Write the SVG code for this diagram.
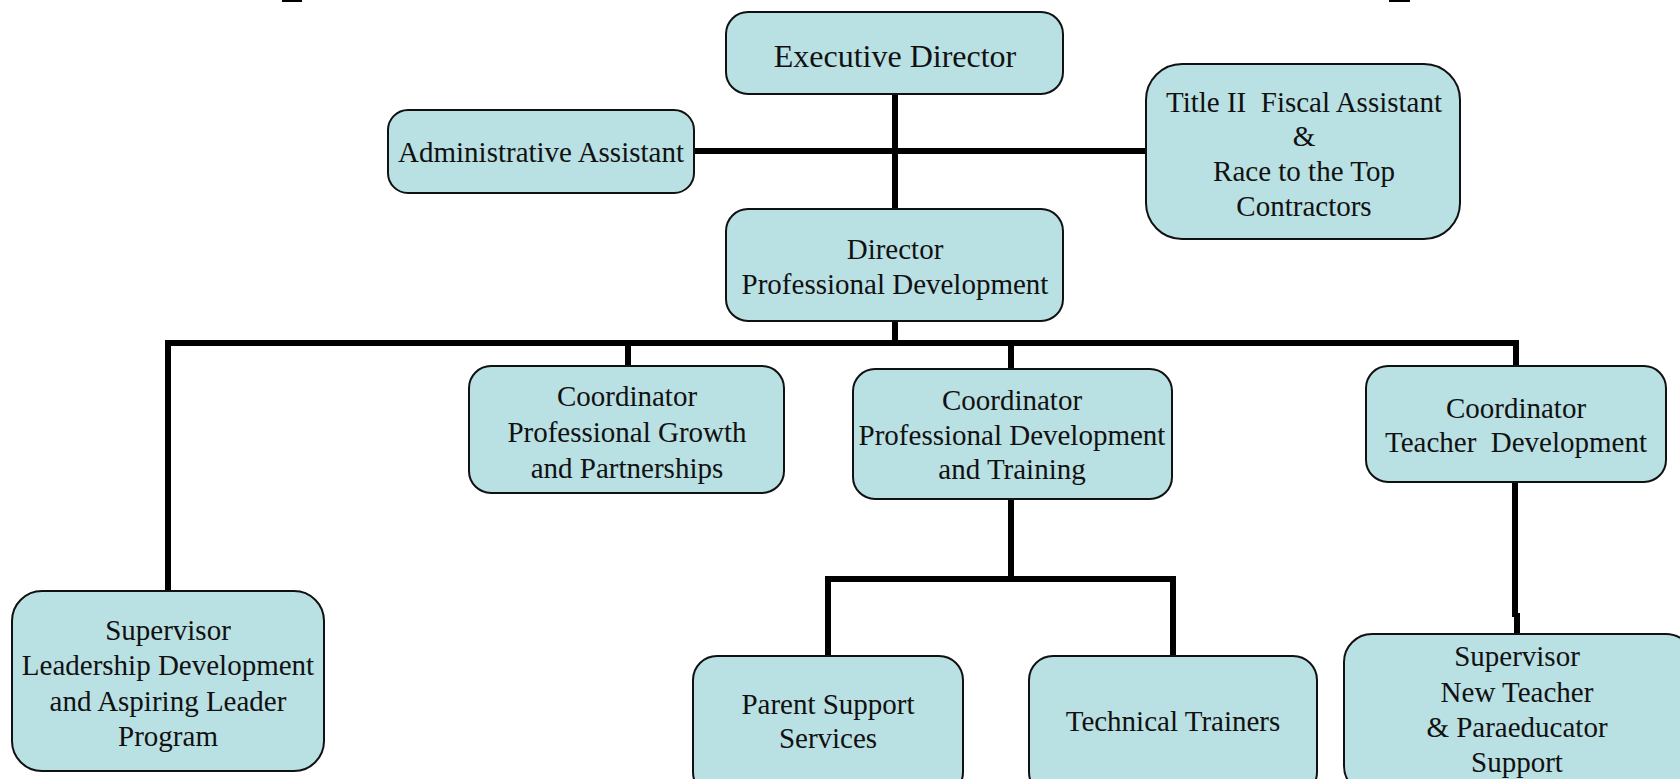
<svg xmlns="http://www.w3.org/2000/svg" width="1680" height="779" viewBox="0 0 1680 779">
<style>
.box{fill:#b9e0e3;stroke:#111;stroke-width:2}
.t{font-family:"Liberation Serif","Times New Roman",serif;font-size:29px;fill:#111;text-anchor:middle}
.big{font-size:32px}
.c{stroke:#000;stroke-width:6;fill:none;stroke-linecap:butt}
</style>
<rect width="1680" height="779" fill="#fff"/>
<rect x="282" y="0" width="20" height="2" fill="#000"/>
<rect x="1389" y="0" width="21" height="2" fill="#000"/>
<g id="connectors">
<line class="c" x1="694" y1="151" x2="1146" y2="151"/>
<line class="c" x1="895" y1="94" x2="895" y2="209"/>
<line class="c" x1="895" y1="321" x2="895" y2="343"/>
<polyline class="c" points="168,591 168,343 1516,343 1516,366"/>
<line class="c" x1="628" y1="343" x2="628" y2="366"/>
<line class="c" x1="1011" y1="343" x2="1011" y2="369"/>
<line class="c" x1="1011" y1="499" x2="1011" y2="579"/>
<polyline class="c" points="828,656 828,579 1173,579 1173,656"/>
<line class="c" x1="1515" y1="482" x2="1515" y2="617"/>
<line class="c" x1="1517" y1="613" x2="1517" y2="634"/>
</g>
<g id="exec"><rect class="box" x="726" y="12" width="337" height="82" rx="22"/><text class="t big" x="895" y="67">Executive Director</text></g>
<g id="admin"><rect class="box" x="388" y="110" width="306" height="83" rx="20"/><text class="t" x="541" y="162">Administrative Assistant</text></g>
<g id="title2"><rect class="box" x="1146" y="64" width="314" height="175" rx="36"/>
<text class="t" x="1304" y="112" xml:space="preserve">Title II  Fiscal Assistant</text>
<text class="t" x="1304" y="146">&amp;</text>
<text class="t" x="1304" y="181">Race to the Top</text>
<text class="t" x="1304" y="216">Contractors</text></g>
<g id="director"><rect class="box" x="726" y="209" width="337" height="112" rx="22"/>
<text class="t" x="895" y="259">Director</text>
<text class="t" x="895" y="294">Professional Development</text></g>
<g id="coord-pgp"><rect class="box" x="469" y="366" width="315" height="127" rx="22"/>
<text class="t" x="627" y="406">Coordinator</text>
<text class="t" x="627" y="442">Professional Growth</text>
<text class="t" x="627" y="478">and Partnerships</text></g>
<g id="coord-pdt"><rect class="box" x="853" y="369" width="319" height="130" rx="22"/>
<text class="t" x="1012" y="410">Coordinator</text>
<text class="t" x="1012" y="445">Professional Development</text>
<text class="t" x="1012" y="479">and Training</text></g>
<g id="coord-td"><rect class="box" x="1366" y="366" width="300" height="116" rx="22"/>
<text class="t" x="1516" y="418">Coordinator</text>
<text class="t" x="1516" y="452" xml:space="preserve">Teacher  Development</text></g>
<g id="sup-lead"><rect class="box" x="12" y="591" width="312" height="180" rx="30"/>
<text class="t" x="168" y="640">Supervisor</text>
<text class="t" x="168" y="675">Leadership Development</text>
<text class="t" x="168" y="711">and Aspiring Leader</text>
<text class="t" x="168" y="746">Program</text></g>
<g id="parent"><rect class="box" x="693" y="656" width="270" height="140" rx="24"/>
<text class="t" x="828" y="714">Parent Support</text>
<text class="t" x="828" y="748">Services</text></g>
<g id="tech"><rect class="box" x="1029" y="656" width="288" height="140" rx="24"/>
<text class="t" x="1173" y="731">Technical Trainers</text></g>
<g id="sup-nt"><rect class="box" x="1344" y="634" width="350" height="160" rx="28"/>
<text class="t" x="1517" y="666">Supervisor</text>
<text class="t" x="1517" y="702">New Teacher</text>
<text class="t" x="1517" y="737">&amp; Paraeducator</text>
<text class="t" x="1517" y="772">Support</text></g>
</svg>
